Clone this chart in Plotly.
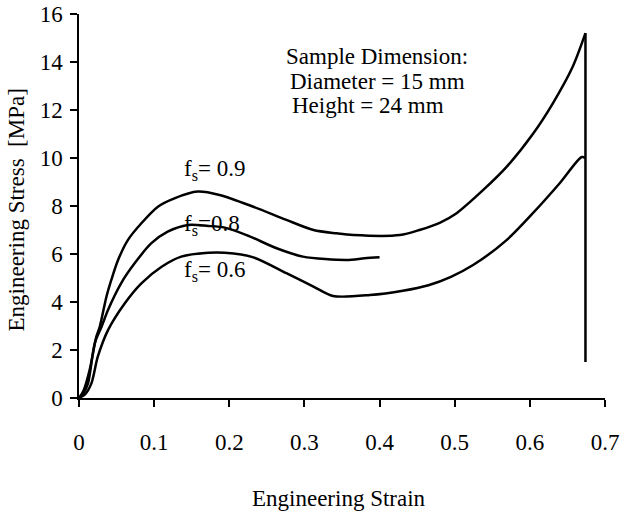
import plotly.graph_objects as go

# Strain / stress readings for each curve
strain_09 = [0, 0.006, 0.0142, 0.023, 0.0276, 0.0365, 0.043, 0.052, 0.065, 0.083, 0.105,
             0.127, 0.158, 0.187, 0.232, 0.276, 0.312, 0.343, 0.365, 0.427, 0.453,
             0.480, 0.502, 0.538, 0.569, 0.604, 0.631, 0.657, 0.674]
stress_09 = [0, 0.3, 1.17, 2.55, 2.97, 4.22, 4.92, 5.75, 6.58, 7.28, 7.97,
             8.32, 8.6, 8.46, 7.97, 7.42, 7.0, 6.86, 6.79, 6.79, 7.0,
             7.3, 7.69, 8.67, 9.63, 11.0, 12.3, 13.8, 15.2]

strain_08 = [0, 0.006, 0.012, 0.021, 0.030, 0.0386, 0.056, 0.074, 0.096, 0.118, 0.145,
             0.172, 0.194, 0.223, 0.263, 0.298, 0.356, 0.380, 0.400]
stress_08 = [0, 0.2, 0.61, 2.28, 2.97, 3.67, 4.78, 5.61, 6.44, 6.93, 7.21,
             7.17, 7.1, 6.79, 6.24, 5.89, 5.75, 5.82, 5.86]

strain_06 = [0, 0.008, 0.0165, 0.025, 0.0386, 0.061, 0.083, 0.110, 0.136, 0.172, 0.194,
             0.232, 0.276, 0.312, 0.338, 0.387, 0.431, 0.465, 0.495, 0.525, 0.569,
             0.604, 0.640, 0.669, 0.674]
stress_06 = [0, 0.15, 0.61, 1.72, 2.83, 3.95, 4.78, 5.47, 5.89, 6.05, 6.05,
             5.86, 5.2, 4.64, 4.25, 4.29, 4.47, 4.7, 5.05, 5.55, 6.58,
             7.7, 8.96, 10.04, 10.0]

# Final unloading drop at the end of the test
drop_strain = [0.674, 0.674]
drop_stress = [15.2, 1.5]

x_ticks = [0, 0.1, 0.2, 0.3, 0.4, 0.5, 0.6, 0.7]
x_tick_text = ["0", "0.1", "0.2", "0.3", "0.4", "0.5", "0.6", "0.7"]
y_ticks = [0, 2, 4, 6, 8, 10, 12, 14, 16]

curve_labels = ["f<sub>s</sub>= 0.9", "f<sub>s</sub>=0.8", "f<sub>s</sub>= 0.6"]
label_pos = [(0.1367, 9.5), (0.1367, 7.2), (0.1367, 5.3)]

info_lines = ["Sample Dimension:", "Diameter = 15 mm", "Height = 24 mm"]
info_pos = [(0.397, 14.25), (0.3975, 13.2), (0.385, 12.17)]

FONT = "Liberation Serif, Times New Roman, serif"
FS = 23

fig = go.Figure()
for xs, ys in [(strain_09, stress_09), (strain_08, stress_08), (strain_06, stress_06)]:
    fig.add_trace(go.Scatter(x=xs, y=ys, mode="lines",
                             line=dict(color="black", width=2.5, shape="spline", smoothing=0.8),
                             showlegend=False, cliponaxis=False))
fig.add_trace(go.Scatter(x=drop_strain, y=drop_stress, mode="lines",
                         line=dict(color="black", width=2.5),
                         showlegend=False, cliponaxis=False))

annotations = []
for txt, (ax, ay) in zip(curve_labels, label_pos):
    annotations.append(dict(x=ax, y=ay, xref="x", yref="y", text=txt, showarrow=False,
                            xanchor="left", yanchor="middle",
                            font=dict(family=FONT, size=FS, color="black")))
for txt, (ax, ay) in zip(info_lines, info_pos):
    annotations.append(dict(x=ax, y=ay, xref="x", yref="y", text=txt, showarrow=False,
                            xanchor="center", yanchor="middle",
                            font=dict(family=FONT, size=FS, color="black")))
annotations.append(dict(x=-0.1185, y=0.49, xref="paper", yref="paper",
                        text="Engineering Stress  [MPa]", textangle=-90, showarrow=False,
                        xanchor="center", yanchor="middle",
                        font=dict(family=FONT, size=FS, color="black")))
annotations.append(dict(x=0.494, y=-0.263, xref="paper", yref="paper",
                        text="Engineering Strain", showarrow=False,
                        xanchor="center", yanchor="middle",
                        font=dict(family=FONT, size=FS, color="black")))

fig.update_layout(
    width=624, height=516,
    margin=dict(l=79, r=19, t=14, b=118, autoexpand=False),
    paper_bgcolor="white", plot_bgcolor="white",
    font=dict(family=FONT, size=FS, color="black"),
    annotations=annotations,
    xaxis=dict(range=[0, 0.7], tickvals=x_ticks, ticktext=x_tick_text,
               showline=True, linecolor="black", linewidth=1.5,
               ticks="outside", ticklen=7, tickwidth=1.5, tickcolor="black",
               showgrid=False, zeroline=False, ticklabelstandoff=16, automargin=False,
               tickfont=dict(family=FONT, size=FS, color="black")),
    yaxis=dict(range=[0, 16], tickvals=y_ticks,
               showline=True, linecolor="black", linewidth=1.5,
               ticks="outside", ticklen=7, tickwidth=1.5, tickcolor="black",
               showgrid=False, zeroline=False, ticklabelstandoff=3, automargin=False,
               tickfont=dict(family=FONT, size=FS, color="black")),
)

fig.write_html("out.html")
